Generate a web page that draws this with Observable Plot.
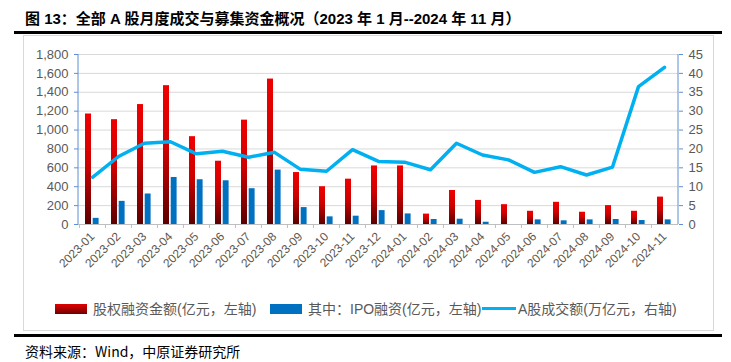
<!DOCTYPE html>
<html><head><meta charset="utf-8">
<script src="https://cdn.jsdelivr.net/npm/d3@7"></script>
<script src="https://cdn.jsdelivr.net/npm/@observablehq/plot@0.6"></script>
<style>
body{margin:0;background:#fff;width:731px;height:362px;position:relative;overflow:hidden;font-family:"Liberation Sans","Noto Sans CJK SC",sans-serif;}
#title{position:absolute;left:25px;top:7px;font-size:15px;font-weight:bold;color:#000;white-space:nowrap;font-family:"Liberation Sans","Noto Sans CJK SC",sans-serif;}
.rule{position:absolute;left:14px;width:708px;height:3px;background:#000;}
#box{position:absolute;left:23px;top:35px;width:691px;height:296px;border:1px solid #d9d9d9;box-sizing:border-box;}
#chart{position:absolute;left:0;top:35px;}
#legend{position:absolute;left:0;top:299px;width:731px;height:20px;font-size:14px;color:#595959;font-family:"Liberation Sans","Noto Sans CJK SC",sans-serif;}
#legend span{position:absolute;white-space:nowrap;top:0;line-height:20px;}
#legend i{position:absolute;display:block;}
#caption{position:absolute;left:25px;top:341px;font-size:14px;color:#000;white-space:nowrap;font-family:"Noto Sans CJK SC",sans-serif;}
</style></head><body>
<div id="title">图 13：全部 A 股月度成交与募集资金概况（2023 年 1 月--2024 年 11 月）</div>
<div class="rule" style="top:31px"></div>
<div id="box"></div>
<div id="chart"></div>
<div id="legend">
  <i style="left:55px;top:5px;width:32px;height:10px;background:linear-gradient(#e00000,#a00000 60%,#6a0000);"></i>
  <span style="left:93px">股权融资金额(亿元，左轴)</span>
  <i style="left:270px;top:5px;width:32px;height:10px;background:#0070c0;"></i>
  <span style="left:308px">其中：IPO融资(亿元，左轴)</span>
  <i style="left:482px;top:8px;width:34px;height:3px;background:#00b0f0;"></i>
  <span style="left:518px">A股成交额(万亿元，右轴)</span>
</div>
<div class="rule" style="top:334px"></div>
<div id="caption">资料来源：Wind，中原证券研究所</div>
<script>
const months = ["2023-01","2023-02","2023-03","2023-04","2023-05","2023-06","2023-07","2023-08","2023-09","2023-10","2023-11","2023-12",
                "2024-01","2024-02","2024-03","2024-04","2024-05","2024-06","2024-07","2024-08","2024-09","2024-10","2024-11"];
const equityFinancing = [1170,1110,1270,1470,930,670,1105,1540,550,400,480,620,
                         620,110,360,255,210,140,235,130,200,140,290];
const ipoFinancing = [65,245,323,498,474,463,379,576,179,81,88,147,
                      112,53,56,24,0,49,39,49,53,42,49];
const turnover = [12.5,18.0,21.5,21.9,18.7,19.4,17.8,19.1,14.6,14.1,19.8,16.7,
                  16.5,14.5,21.5,18.4,17.1,13.8,15.3,13.1,15.2,36.5,41.6];
const leftTicks = d3.range(0, 1801, 200);
const rightTicks = d3.range(0, 46, 5);
const RATIO = 1800 / 45;

const data = months.map((m, i) => ({month: m, equity: equityFinancing[i], ipo: ipoFinancing[i], turnover: turnover[i]}));

const axisColor = "#5b8fd6";
const textColor = "#595959";

const chart = Plot.plot({
  width: 731,
  height: 260,
  marginTop: 19,
  marginBottom: 71,
  marginLeft: 78,
  marginRight: 53,
  style: {fontFamily: "'Liberation Sans', 'Noto Sans CJK SC', sans-serif", fontSize: "13px", color: textColor, background: "transparent"},
  x: {domain: months, padding: 0, axis: null, label: null},
  y: {domain: [0, 1800], axis: null, label: null},
  marks: [
    Plot.gridY(leftTicks, {stroke: "#d9d9d9", strokeOpacity: 1}),
    Plot.ruleY([0], {stroke: "#bfbfbf"}),
    Plot.barY(data, {x: "month", y: "equity", fill: "url(#redGrad)", insetLeft: 6, insetRight: 14}),
    Plot.barY(data, {x: "month", y: "ipo", fill: "#0070c0", insetLeft: 13.7, insetRight: 6.4}),
    Plot.lineY(data, {x: "month", y: d => d.turnover * RATIO, stroke: "#00b0f0", strokeWidth: 3.5, strokeLinejoin: "round"}),
    Plot.axisY(leftTicks, {anchor: "left", label: null, tickFormat: d3.format(","), tickSize: 4, tickPadding: 6, stroke: axisColor, fill: textColor, fontSize: 13}),
    Plot.axisY(rightTicks.map(v => v * RATIO), {anchor: "right", label: null, tickFormat: d => d / RATIO, tickSize: 4, tickPadding: 6, stroke: axisColor, fill: textColor, fontSize: 13}),
    Plot.axisX({label: null, tickRotate: -45, tickSize: 0, tickPadding: 10, fill: textColor, fontSize: 12}),
    Plot.axisX({label: null, tickFormat: null, tickSize: 4, dx: -13.04, stroke: "#bfbfbf"})
  ]
});

const ns = "http://www.w3.org/2000/svg";
const defs = document.createElementNS(ns, "defs");
defs.innerHTML = '<linearGradient id="redGrad" x1="0" y1="0" x2="0" y2="1">' +
  '<stop offset="0" stop-color="#f00000"/><stop offset="0.45" stop-color="#d00000"/><stop offset="1" stop-color="#5c0000"/></linearGradient>';
chart.insertBefore(defs, chart.firstChild);

const ys = chart.scale("y");
document.getElementById("chart").appendChild(chart);
const yTop = ys.apply(1800), yBot = ys.apply(0);
[78, 731 - 53].forEach(px => {
  const l = document.createElementNS(ns, "line");
  l.setAttribute("x1", px); l.setAttribute("x2", px);
  l.setAttribute("y1", yTop); l.setAttribute("y2", yBot);
  l.setAttribute("stroke", axisColor);
  chart.appendChild(l);
});
</script>
</body></html>
